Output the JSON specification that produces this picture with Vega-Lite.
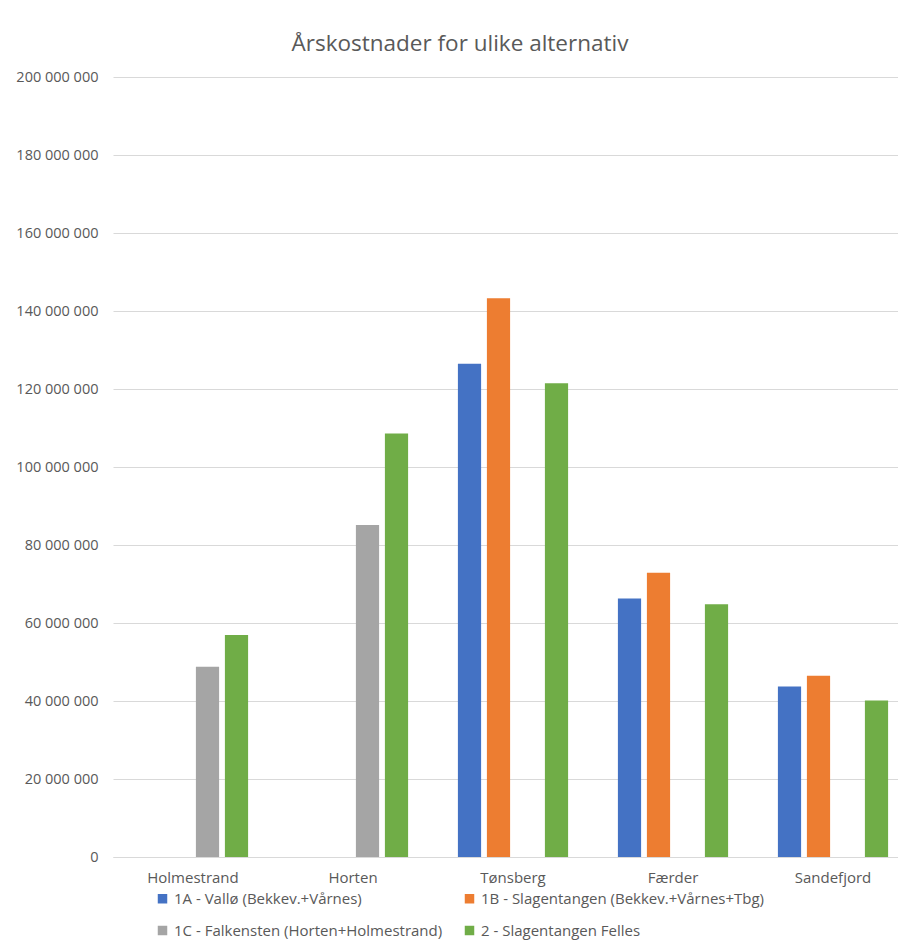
{
  "$schema": "https://vega.github.io/schema/vega-lite/v6.json",
  "width": 800,
  "height": 780,
  "autosize": {"type": "none"},
  "padding": {"left": 113, "top": 77, "right": 0, "bottom": 92},
  "background": "white",
  "title": {
    "text": "Årskostnader for ulike alternativ",
    "fontSize": 22.5,
    "font": "Open Sans",
    "fontWeight": "normal",
    "color": "#595959",
    "anchor": "middle",
    "dx": -53,
    "offset": 14
  },
  "data": {
    "values": [
      {"kommune": "Holmestrand", "alternativ": "1C - Falkensten (Horten+Holmestrand)", "kostnad": 48800000},
      {"kommune": "Holmestrand", "alternativ": "2 - Slagentangen Felles", "kostnad": 56900000},
      {"kommune": "Horten", "alternativ": "1C - Falkensten (Horten+Holmestrand)", "kostnad": 85100000},
      {"kommune": "Horten", "alternativ": "2 - Slagentangen Felles", "kostnad": 108600000},
      {"kommune": "Tønsberg", "alternativ": "1A - Vallø (Bekkev.+Vårnes)", "kostnad": 126500000},
      {"kommune": "Tønsberg", "alternativ": "1B - Slagentangen (Bekkev.+Vårnes+Tbg)", "kostnad": 143300000},
      {"kommune": "Tønsberg", "alternativ": "2 - Slagentangen Felles", "kostnad": 121500000},
      {"kommune": "Færder", "alternativ": "1A - Vallø (Bekkev.+Vårnes)", "kostnad": 66300000},
      {"kommune": "Færder", "alternativ": "1B - Slagentangen (Bekkev.+Vårnes+Tbg)", "kostnad": 72900000},
      {"kommune": "Færder", "alternativ": "2 - Slagentangen Felles", "kostnad": 64800000},
      {"kommune": "Sandefjord", "alternativ": "1A - Vallø (Bekkev.+Vårnes)", "kostnad": 43700000},
      {"kommune": "Sandefjord", "alternativ": "1B - Slagentangen (Bekkev.+Vårnes+Tbg)", "kostnad": 46500000},
      {"kommune": "Sandefjord", "alternativ": "2 - Slagentangen Felles", "kostnad": 40100000}
    ]
  },
  "mark": {"type": "bar"},
  "encoding": {
    "x": {
      "field": "kommune",
      "type": "nominal",
      "sort": ["Holmestrand", "Horten", "Tønsberg", "Færder", "Sandefjord"],
      "scale": {"paddingInner": 0.275, "paddingOuter": 0.1375},
      "axis": {
        "title": null,
        "labelAngle": 0,
        "labelFont": "Open Sans",
        "labelFontSize": 15,
        "labelColor": "#595959",
        "labelPadding": 13,
        "ticks": false,
        "domainColor": "#d9d9d9",
        "grid": false
      }
    },
    "xOffset": {
      "field": "alternativ",
      "type": "nominal",
      "scale": {
        "domain": ["1A - Vallø (Bekkev.+Vårnes)", "1B - Slagentangen (Bekkev.+Vårnes+Tbg)", "1C - Falkensten (Horten+Holmestrand)", "2 - Slagentangen Felles"],
        "paddingInner": 0.2,
        "paddingOuter": 0.1
      }
    },
    "y": {
      "field": "kostnad",
      "type": "quantitative",
      "scale": {"domain": [0, 200000000], "nice": false},
      "axis": {
        "title": null,
        "values": [0, 20000000, 40000000, 60000000, 80000000, 100000000, 120000000, 140000000, 160000000, 180000000, 200000000],
        "labelExpr": "replace(format(datum.value, ',d'), /,/g, ' ')",
        "labelFont": "Open Sans",
        "labelFontSize": 14.5,
        "labelColor": "#595959",
        "labelPadding": 15,
        "ticks": false,
        "domain": false,
        "gridColor": "#d9d9d9",
        "gridWidth": 1
      }
    },
    "color": {
      "field": "alternativ",
      "type": "nominal",
      "scale": {
        "domain": ["1A - Vallø (Bekkev.+Vårnes)", "1B - Slagentangen (Bekkev.+Vårnes+Tbg)", "1C - Falkensten (Horten+Holmestrand)", "2 - Slagentangen Felles"],
        "range": ["#4472C4", "#ED7D31", "#A5A5A5", "#70AD47"]
      },
      "legend": {
        "title": null,
        "orient": "none",
        "legendX": 42,
        "legendY": 814,
        "direction": "horizontal",
        "columns": 2,
        "columnPadding": 19,
        "rowPadding": 16,
        "symbolType": "square",
        "symbolSize": 90,
        "symbolStrokeWidth": 0,
        "labelFont": "Open Sans",
        "labelFontSize": 15,
        "labelColor": "#595959",
        "labelLimit": 400
      }
    }
  },
  "config": {
    "view": {"stroke": null}
  }
}
